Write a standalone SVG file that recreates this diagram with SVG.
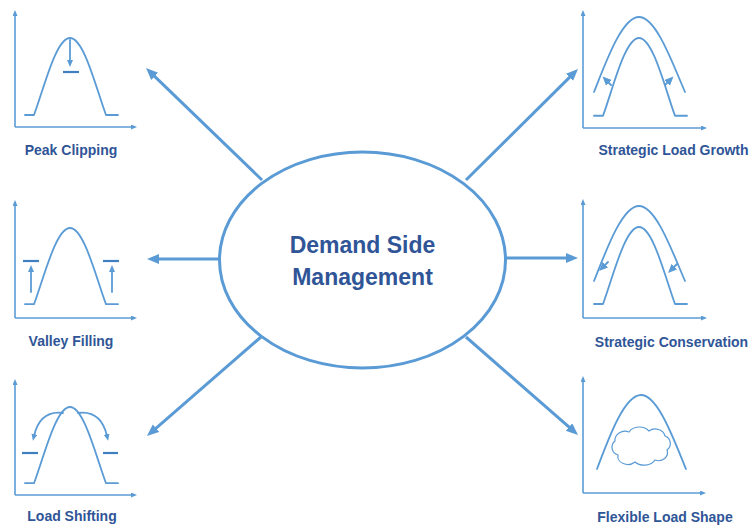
<svg xmlns="http://www.w3.org/2000/svg" width="751" height="527" viewBox="0 0 751 527">
<style>
.c{fill:none;stroke:#5B9BD5;stroke-width:1.8;stroke-linecap:round;stroke-linejoin:round}
.ax{fill:none;stroke:#5B9BD5;stroke-width:1.6}
.bar{stroke:#3F7FC0;stroke-width:2.2}
.con{fill:none;stroke:#5B9BD5;stroke-width:3}
.lbl{font-family:"Liberation Sans",Arial,sans-serif;font-weight:bold;font-size:14px;fill:#2F5597;text-anchor:middle}
.ttl{font-family:"Liberation Sans",Arial,sans-serif;font-weight:bold;font-size:23px;fill:#2F5597;text-anchor:middle}
</style>
<defs>
<marker id="big" markerUnits="userSpaceOnUse" markerWidth="14" markerHeight="12" refX="4" refY="5" orient="auto"><path d="M0,0 L12,5 L0,10 z" fill="#5B9BD5"/></marker>
<marker id="sm" markerUnits="userSpaceOnUse" markerWidth="8" markerHeight="8" refX="2" refY="3" orient="auto"><path d="M0,0 L7,3 L0,6 z" fill="#5B9BD5"/></marker>
<marker id="md" markerUnits="userSpaceOnUse" markerWidth="10" markerHeight="10" refX="2" refY="4" orient="auto"><path d="M0,0 L9,4 L0,8 z" fill="#5B9BD5"/></marker>
<marker id="axm" markerUnits="userSpaceOnUse" markerWidth="7" markerHeight="6" refX="1" refY="2.5" orient="auto"><path d="M0,0 L6,2.5 L0,5 z" fill="#5B9BD5"/></marker>
<path id="bell" d="M-45,77 H-36 C-26,50 -14,0 0,0 C14,0 26,50 36,77 H48"/>
<path id="outer" d="M-45,75 C-33,45 -17,0 0,0 C17,0 33,45 46,75"/>
</defs>

<g id="connectors">
<line class="con" x1="262" y1="180" x2="151.8" y2="73.6" marker-end="url(#big)"/>
<line class="con" x1="219" y1="259" x2="155" y2="259" marker-end="url(#big)"/>
<line class="con" x1="261" y1="337" x2="153" y2="430.8" marker-end="url(#big)"/>
<line class="con" x1="466" y1="180" x2="572.3" y2="74.6" marker-end="url(#big)"/>
<line class="con" x1="506" y1="258" x2="570" y2="258" marker-end="url(#big)"/>
<line class="con" x1="466" y1="337" x2="572" y2="429.7" marker-end="url(#big)"/>
</g>

<g id="center">
<ellipse cx="362.5" cy="260" rx="143" ry="108" fill="#fff" stroke="#5B9BD5" stroke-width="3"/>
<text class="ttl" x="362.5" y="253">Demand Side</text>
<text class="ttl" x="362.5" y="285">Management</text>
</g>

<g id="peak-clipping">
<line class="ax" x1="15" y1="127" x2="15" y2="15" marker-end="url(#axm)"/>
<line class="ax" x1="15" y1="127" x2="132" y2="127" marker-end="url(#axm)"/>
<use href="#bell" class="c" transform="translate(70,38)"/>
<line class="c" x1="70" y1="40" x2="70" y2="62" marker-end="url(#sm)"/>
<line class="bar" x1="63" y1="72" x2="79" y2="72"/>
<text class="lbl" x="71" y="155">Peak Clipping</text>
</g>

<g id="valley-filling">
<line class="ax" x1="15" y1="318" x2="15" y2="205" marker-end="url(#axm)"/>
<line class="ax" x1="15" y1="318" x2="132" y2="318" marker-end="url(#axm)"/>
<use href="#bell" class="c" transform="translate(70,228) scale(1,0.99)"/>
<line class="c" x1="31" y1="292" x2="31" y2="270" marker-end="url(#sm)"/>
<line class="c" x1="112" y1="292" x2="112" y2="270" marker-end="url(#sm)"/>
<line class="bar" x1="23" y1="261" x2="39" y2="261"/>
<line class="bar" x1="103" y1="261" x2="119" y2="261"/>
<text class="lbl" x="71" y="346">Valley Filling</text>
</g>

<g id="load-shifting">
<line class="ax" x1="15" y1="495" x2="15" y2="384" marker-end="url(#axm)"/>
<line class="ax" x1="15" y1="495" x2="132" y2="495" marker-end="url(#axm)"/>
<use href="#bell" class="c" transform="translate(70,407) scale(1,0.99)"/>
<path class="c" d="M63,413 Q40,410 34,436" marker-end="url(#sm)"/>
<path class="c" d="M78,413 Q101,410 107,436" marker-end="url(#sm)"/>
<line class="bar" x1="22" y1="453" x2="38" y2="453"/>
<line class="bar" x1="103" y1="453" x2="118" y2="453"/>
<text class="lbl" x="72" y="521">Load Shifting</text>
</g>

<g id="strategic-load-growth">
<line class="ax" x1="583" y1="128" x2="583" y2="15" marker-end="url(#axm)"/>
<line class="ax" x1="583" y1="128" x2="702" y2="128" marker-end="url(#axm)"/>
<use href="#bell" class="c" transform="translate(639,38) scale(1,1.01)"/>
<use href="#outer" class="c" transform="translate(639,17)"/>
<line class="c" x1="611" y1="85" x2="607.5" y2="81.5" marker-end="url(#md)"/>
<line class="c" x1="665" y1="85" x2="668.5" y2="81.5" marker-end="url(#md)"/>
<text class="lbl" x="673.5" y="155">Strategic Load Growth</text>
</g>

<g id="strategic-conservation">
<line class="ax" x1="583" y1="318" x2="583" y2="204" marker-end="url(#axm)"/>
<line class="ax" x1="583" y1="318" x2="702" y2="318" marker-end="url(#axm)"/>
<use href="#bell" class="c" transform="translate(639,227)"/>
<use href="#outer" class="c" transform="translate(639,206)"/>
<line class="c" x1="608" y1="262" x2="604" y2="266" marker-end="url(#md)"/>
<line class="c" x1="677" y1="264" x2="673" y2="268" marker-end="url(#md)"/>
<text class="lbl" x="671.5" y="347">Strategic Conservation</text>
</g>

<g id="flexible-load-shape">
<line class="ax" x1="583" y1="493" x2="583" y2="381" marker-end="url(#axm)"/>
<line class="ax" x1="583" y1="493" x2="701" y2="493" marker-end="url(#axm)"/>
<path class="c" d="M597,469 C608,440 624,395 641,395 C658,395 674,440 686,469"/>
<path d="M618,455 a8,8 0 0 1 -3,-14 a10,9 0 0 1 14,-9 a12,10 0 0 1 20,-1 a10,9 0 0 1 16,5 a8,8 0 0 1 2,14 a9,8 0 0 1 -12,10 a12,9 0 0 1 -20,2 a10,8 0 0 1 -17,-7 z" fill="#fff" stroke="#5B9BD5" stroke-width="1.2"/>
<text class="lbl" x="665" y="522">Flexible Load Shape</text>
</g>
</svg>
